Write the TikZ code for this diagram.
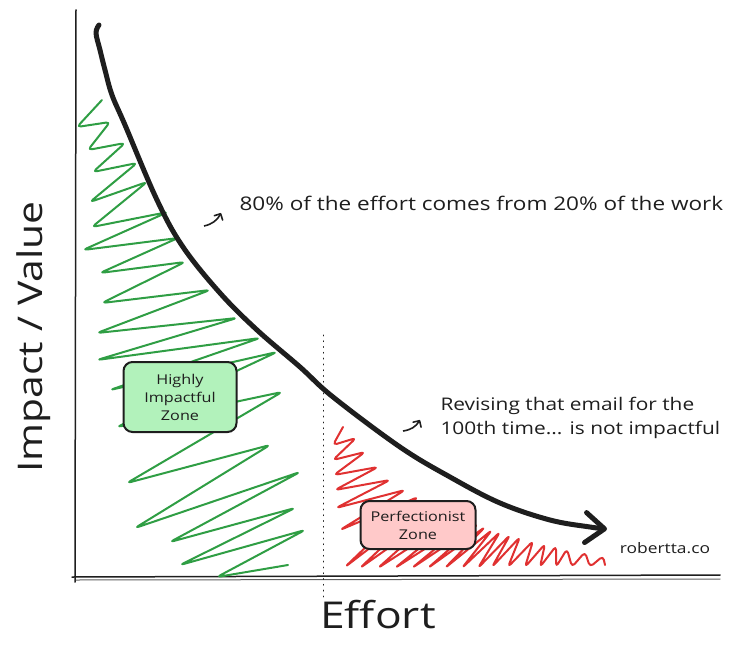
\documentclass[tikz,border=0pt]{standalone}
\usepackage{fontspec}
\setmainfont{Open Sans}[FakeStretch=1.2]
\usetikzlibrary{arrows.meta}
\definecolor{verde}{HTML}{2F9E44}
\definecolor{rosso}{HTML}{E03131}
\definecolor{verdechiaro}{HTML}{B2F2BB}
\definecolor{rosachiaro}{HTML}{FFC9C9}
\definecolor{inchiostro}{HTML}{1E1E1E}

\begin{document}
\begin{tikzpicture}[x=1pt, y=-1pt, >={Straight Barb[round]},
	asse/.style={line width=1.5pt, color=inchiostro, line cap=round},
	curva/.style={line width=5pt, line cap=round, line join=round, color=inchiostro},
	scarabocchio/.style={line width=2pt, line cap=round, line join=round, rounded corners=4pt},
	zona/.style={draw=inchiostro, line width=2pt, rounded corners=9pt, align=center,
		text=inchiostro, font=\fontsize{13.5}{18}\selectfont, inner sep=0pt},
	nota/.style={font=\fontsize{18.8}{24}\selectfont, align=left, text=inchiostro},
	freccina/.style={->, line width=1.6pt, color=inchiostro}]

	\useasboundingbox (0,0) rectangle (738,652);

	% assi
	\coordinate (origine) at (75,578);
	\coordinate (cima) at (76,10);
	\coordinate (fondo) at (720,575);
	\draw[asse] (cima) -- (75,582);
	\draw[asse] (72,577) -- (fondo);
	\draw[asse, line width=1pt, color=inchiostro!70] (76,580) -- (720,579);
	\draw[line width=1pt, color=inchiostro, dash pattern=on 0.8pt off 5pt, line cap=round] (323,335) -- (323,597);

	% zona verde
	\draw[scarabocchio, verde] (102,100) -- (77,127) -- (110,122) -- (88,150) -- (125,143)
		-- (93,172) -- (137,163) -- (90,202) -- (147,182) -- (92,227) -- (168,212)
		-- (83,250) -- (178,238) -- (100,273) -- (185,262) -- (102,303) -- (210,290)
		-- (97,333) -- (237,318) -- (97,360) -- (260,338) -- (110,390) -- (277,352)
		-- (117,427) -- (282,392) -- (127,483) -- (270,445) -- (135,528) -- (300,472)
		-- (170,542) -- (295,508) -- (180,565) -- (305,530) -- (217,577) -- (288,565);

	% zona rossa
	\draw[scarabocchio, rosso] (343,427) -- (333,445) -- (356,438) -- (333,460) -- (365,452)
		-- (334,475) -- (378,467) -- (335,490) -- (390,480) -- (336,508) -- (405,490)
		-- (340,530) -- (418,497) -- (345,567) -- (430,502) -- (360,568) -- (445,508)
		-- (378,568) -- (460,515) -- (395,568) -- (470,520) -- (412,568) -- (478,524)
		-- (428,568) -- (485,527) -- (445,568) -- (492,530) -- (462,568) -- (500,532)
		-- (478,568) -- (510,535) -- (492,567) -- (520,537) -- (508,567) -- (533,541)
		-- (525,567) -- (545,544) -- (540,567) -- (556,546) -- (556,567) -- (567,549)
		-- (572,567) -- (585,552) -- (590,567) -- (603,556) -- (605,565);

	% curva di Pareto
	\draw[curva, -{Straight Barb[round, length=19pt, width=30pt]}] plot[smooth, tension=0.6] coordinates {
		(99,25) (96,33) (100,50) (105,70) (112,95) (125,125) (157,200) (183,247)
		(220,293) (257,330) (300,367) (333,397) (400,447) (450,477) (500,503)
		(550,520) (590,527) (607,529)};

	% zone
	\node[zona, fill=verdechiaro, minimum width=113pt, minimum height=70pt] (alto) at (180,397) {Highly\\Impactful\\Zone};
	\node[zona, fill=rosachiaro, minimum width=115pt, minimum height=48pt] (perfetto) at (418,525) {Perfectionist\\Zone};

	% note
	\node[nota, anchor=west] (pareto) at (236,203) {80\% of the effort comes from 20\% of the work};
	\node[nota, anchor=west, font=\fontsize{17.4}{24}\selectfont] (revisione) at (437,418) {Revising that email for the\\100th time... is not impactful};
	\coordinate (p1) at (204,226);
	\coordinate (p2) at (221,213);
	\draw[freccina] (p1) to[bend right=25] (p2);
	\coordinate (r1) at (403,431);
	\coordinate (r2) at (420,420);
	\draw[freccina] (r1) to[bend right=25] (r2);

	% etichette
	\node[font=\fontsize{14.5}{16}\selectfont, text=inchiostro] (firma) at (665,548) {robertta.co};
	\node[font=\fontsize{37}{40}\selectfont, text=inchiostro] (sforzo) at (378,615) {Effort};
	\node[font=\fontsize{34}{38}\selectfont, text=inchiostro, rotate=90] (impatto) at (34,337) {Impact / Value};
\end{tikzpicture}
\end{document}
